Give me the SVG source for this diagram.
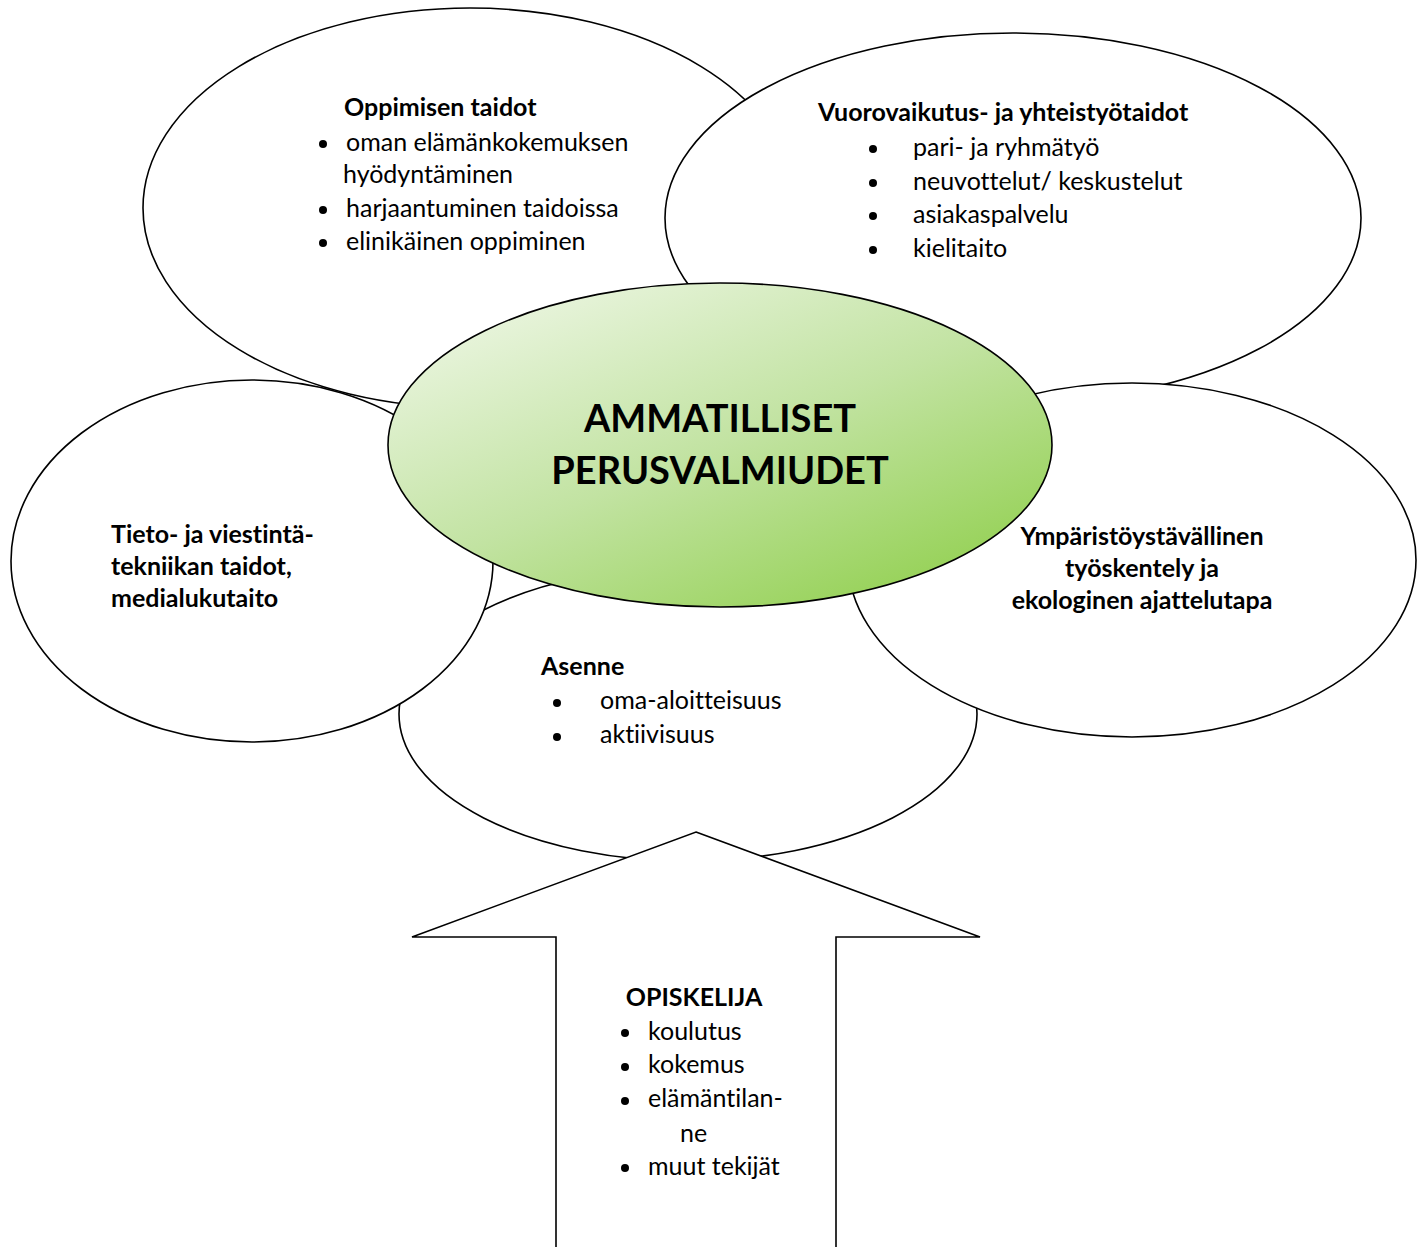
<svg xmlns="http://www.w3.org/2000/svg" width="1421" height="1247" viewBox="0 0 1421 1247">
<defs>
<linearGradient id="g" x1="0.12" y1="0.05" x2="0.88" y2="0.95">
<stop offset="0" stop-color="#ecf6e2"/>
<stop offset="0.5" stop-color="#c2e3a2"/>
<stop offset="1" stop-color="#92d050"/>
</linearGradient>
<style>
.sh{fill:#fff;stroke:#000;stroke-width:1.6}
.t{font-family:Lato,"Liberation Sans",sans-serif;font-size:25px;fill:#000;font-variant-ligatures:none}
.b{font-weight:bold}
.title{font-family:Lato,"Liberation Sans",sans-serif;font-size:38px;font-weight:bold;fill:#000}
</style>
</defs>
<rect width="1421" height="1247" fill="#fff"/>
<g id="oppimisen">
<ellipse class="sh" cx="470" cy="208" rx="327" ry="200"/>
<text class="t b" x="344" y="116">Oppimisen taidot</text>
<circle cx="323" cy="144" r="4"/>
<text class="t" x="346" y="151">oman elämänkokemuksen</text>
<text class="t" x="343" y="183">hyödyntäminen</text>
<circle cx="323" cy="210" r="4"/>
<text class="t" x="346" y="217">harjaantuminen taidoissa</text>
<circle cx="323" cy="243" r="4"/>
<text class="t" x="346" y="250">elinikäinen oppiminen</text>
</g>
<g id="vuorovaikutus">
<ellipse class="sh" cx="1013" cy="218" rx="348" ry="185"/>
<text class="t b" x="818" y="121">Vuorovaikutus- ja yhteistyötaidot</text>
<circle cx="873" cy="149" r="4"/>
<text class="t" x="913" y="156">pari- ja ryhmätyö</text>
<circle cx="873" cy="183" r="4"/>
<text class="t" x="913" y="190">neuvottelut/ keskustelut</text>
<circle cx="873" cy="216" r="4"/>
<text class="t" x="913" y="223">asiakaspalvelu</text>
<circle cx="873" cy="250" r="4"/>
<text class="t" x="913" y="257">kielitaito</text>
</g>
<g id="asenne">
<ellipse class="sh" cx="688" cy="714" rx="289" ry="147"/>
<text class="t b" x="541" y="675">Asenne</text>
<circle cx="557" cy="703" r="4"/>
<text class="t" x="600" y="709">oma-aloitteisuus</text>
<circle cx="557" cy="737" r="4"/>
<text class="t" x="600" y="743">aktiivisuus</text>
</g>
<g id="tieto">
<ellipse class="sh" cx="252" cy="561" rx="241" ry="181"/>
<text class="t b" x="111" y="543">Tieto- ja viestintä-</text>
<text class="t b" x="111" y="575">tekniikan taidot,</text>
<text class="t b" x="111" y="607">medialukutaito</text>
</g>
<g id="ymparisto">
<ellipse class="sh" cx="1132" cy="560" rx="284" ry="177"/>
<text class="t b" x="1142" y="545" text-anchor="middle">Ympäristöystävällinen</text>
<text class="t b" x="1142" y="577" text-anchor="middle">työskentely ja</text>
<text class="t b" x="1142" y="609" text-anchor="middle">ekologinen ajattelutapa</text>
</g>
<g id="center">
<ellipse cx="720" cy="445" rx="332" ry="162" fill="url(#g)" stroke="#000" stroke-width="1.6"/>
<text class="title" x="720" y="432" text-anchor="middle">AMMATILLISET</text>
<text class="title" x="720" y="484" text-anchor="middle">PERUSVALMIUDET</text>
</g>
<g id="opiskelija">
<polygon class="sh" points="696,832 980,937 836,937 836,1250 556,1250 556,937 412,937"/>
<text class="t b" x="694" y="1006" text-anchor="middle">OPISKELIJA</text>
<circle cx="625" cy="1033" r="4"/>
<text class="t" x="648" y="1040">koulutus</text>
<circle cx="625" cy="1067" r="4"/>
<text class="t" x="648" y="1073">kokemus</text>
<circle cx="625" cy="1101" r="4"/>
<text class="t" x="648" y="1107">elämäntilan-</text>
<text class="t" x="680" y="1142">ne</text>
<circle cx="625" cy="1168" r="4"/>
<text class="t" x="648" y="1175">muut tekijät</text>
</g>
<g id="connectors"></g>
</svg>
